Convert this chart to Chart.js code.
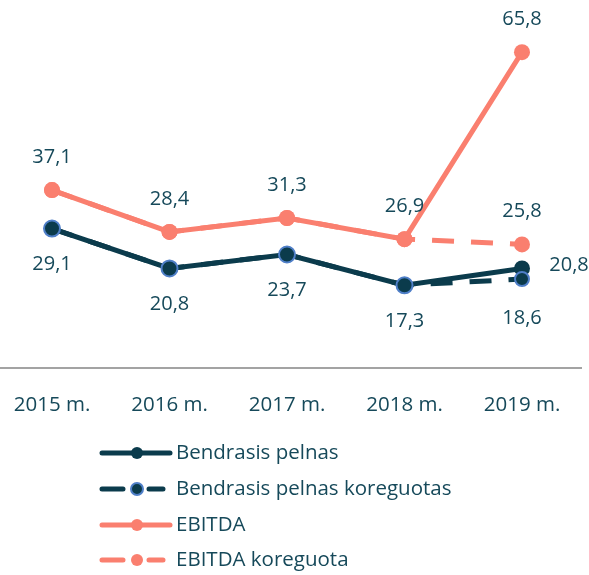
<!DOCTYPE html>
<html>
<head>
<meta charset="utf-8">
<script src="https://cdn.jsdelivr.net/npm/chart.js@4"></script>
<style>
  html, body { margin: 0; padding: 0; background: #fff; }
  #wrap { width: 589px; height: 575px; }
</style>
</head>
<body>
<div id="wrap"><canvas id="chart" width="589" height="575"></canvas></div>
<script>
// ================= DATA =================
const years = ["2015 m.", "2016 m.", "2017 m.", "2018 m.", "2019 m."];
const pelnas = [29.1, 20.8, 23.7, 17.3, 20.8];
const pelnasKor = [29.1, 20.8, 23.7, 17.3, 18.6];
const ebitda = [37.1, 28.4, 31.3, 26.9, 65.8];
const ebitdaKor = [37.1, 28.4, 31.3, 26.9, 25.8];

const DARK = "#0b3b4c";
const SALMON = "#fa7f6f";
const BLUE = "#4f7fc8";
const TEXT = "#16495a";
const FONT = "'Open Sans', sans-serif";

// which labels to show: [datasetIndex, pointIndex, dx, dy]
const labelSpots = [
  [0, 0, 0, 36], [0, 1, 0, 36], [0, 2, 0, 36], [0, 3, 0, 36], [0, 4, 47, -3],
  [1, 4, 0, 39],
  [2, 0, 0, -33], [2, 1, 0, -33], [2, 2, 0, -33], [2, 3, 0, -33], [2, 4, 0, -33],
  [3, 4, 0, -33]
];

const fmt = v => String(v).replace(".", ",");

// ================= PLUGINS =================
const axisLine = {
  id: "axisLine",
  beforeDatasetsDraw(chart) {
    const ctx = chart.ctx;
    const y = Math.round(chart.scales.y.getPixelForValue(0));
    ctx.save();
    ctx.strokeStyle = "#a3a3a3";
    ctx.lineWidth = 2;
    ctx.beginPath();
    ctx.moveTo(0, y);
    ctx.lineTo(582, y);
    ctx.stroke();
    ctx.restore();
  }
};

const valueLabels = {
  id: "valueLabels",
  afterDatasetsDraw(chart) {
    const ctx = chart.ctx;
    ctx.save();
    ctx.font = "20px " + FONT;
    ctx.fillStyle = TEXT;
    ctx.textAlign = "center";
    ctx.textBaseline = "middle";
    labelSpots.forEach(([d, i, dx, dy]) => {
      const pt = chart.getDatasetMeta(d).data[i];
      const v = chart.data.datasets[d].data[i];
      ctx.fillText(fmt(v), pt.x + dx, pt.y + dy);
    });
    ctx.restore();
  }
};

const lineLegend = {
  id: "lineLegend",
  afterDraw(chart) {
    const ctx = chart.ctx;
    const x0 = 102, x1 = 170, dotX = 137, textX = 176;
    const rows = [453, 489, 525, 560];
    ctx.save();
    chart.data.datasets.forEach((ds, k) => {
      const y = rows[k];
      ctx.strokeStyle = ds.borderColor;
      ctx.lineWidth = 5;
      ctx.lineCap = "round";
      ctx.beginPath();
      if (ds.borderDash) {
        ctx.moveTo(x0, y); ctx.lineTo(123, y);
        ctx.moveTo(149, y); ctx.lineTo(163, y);
      } else {
        ctx.moveTo(x0, y); ctx.lineTo(x1, y);
      }
      ctx.stroke();
      ctx.beginPath();
      ctx.arc(dotX, y, 6, 0, Math.PI * 2);
      ctx.fillStyle = ds.pointBackgroundColor;
      ctx.fill();
      if (ds.pointBorderColor !== ds.pointBackgroundColor) {
        ctx.lineWidth = 2;
        ctx.strokeStyle = ds.pointBorderColor;
        ctx.stroke();
      }
      ctx.fillStyle = TEXT;
      ctx.font = "20.5px " + FONT;
      ctx.textAlign = "left";
      ctx.textBaseline = "middle";
      ctx.fillText(ds.label, textX, y);
    });
    ctx.restore();
  }
};

// ================= CHART =================
const ctx = document.getElementById("chart").getContext("2d");

new Chart(ctx, {
  type: "line",
  data: {
    labels: years,
    datasets: [
      {
        label: "Bendrasis pelnas",
        data: pelnas,
        borderColor: DARK,
        borderWidth: 5,
        pointRadius: 8,
        pointBackgroundColor: DARK,
        pointBorderColor: DARK,
        pointBorderWidth: 0,
        order: 3
      },
      {
        label: "Bendrasis pelnas koreguotas",
        data: pelnasKor,
        borderColor: DARK,
        borderWidth: 5,
        borderDash: [22, 17],
        pointRadius: [8, 8, 8, 8, 7],
        pointBackgroundColor: DARK,
        pointBorderColor: BLUE,
        pointBorderWidth: 2,
        order: 2
      },
      {
        label: "EBITDA",
        data: ebitda,
        borderColor: SALMON,
        borderWidth: 5,
        pointRadius: 8,
        pointBackgroundColor: SALMON,
        pointBorderColor: SALMON,
        pointBorderWidth: 0,
        order: 1
      },
      {
        label: "EBITDA koreguota",
        data: ebitdaKor,
        borderColor: SALMON,
        borderWidth: 5,
        borderDash: [22, 17],
        pointRadius: 8,
        pointBackgroundColor: SALMON,
        pointBorderColor: SALMON,
        pointBorderWidth: 0,
        order: 4
      }
    ]
  },
  options: {
    responsive: false,
    animation: false,
    layout: { padding: { top: 32, left: 52, right: 67, bottom: 134 } },
    plugins: {
      legend: { display: false },
      tooltip: { enabled: false }
    },
    elements: { line: { tension: 0 } },
    scales: {
      x: {
        offset: false,
        grid: { display: false, drawTicks: false },
        border: { display: false },
        ticks: { color: TEXT, font: { family: FONT, size: 20.5 }, padding: 24, maxRotation: 0 },
        afterFit: (scale) => {
          scale.paddingLeft = 0;
          scale.paddingRight = 0;
        }
      },
      y: {
        display: false,
        min: 0,
        max: 70
      }
    }
  },
  plugins: [axisLine, valueLabels, lineLegend]
});
</script>
</body>
</html>
